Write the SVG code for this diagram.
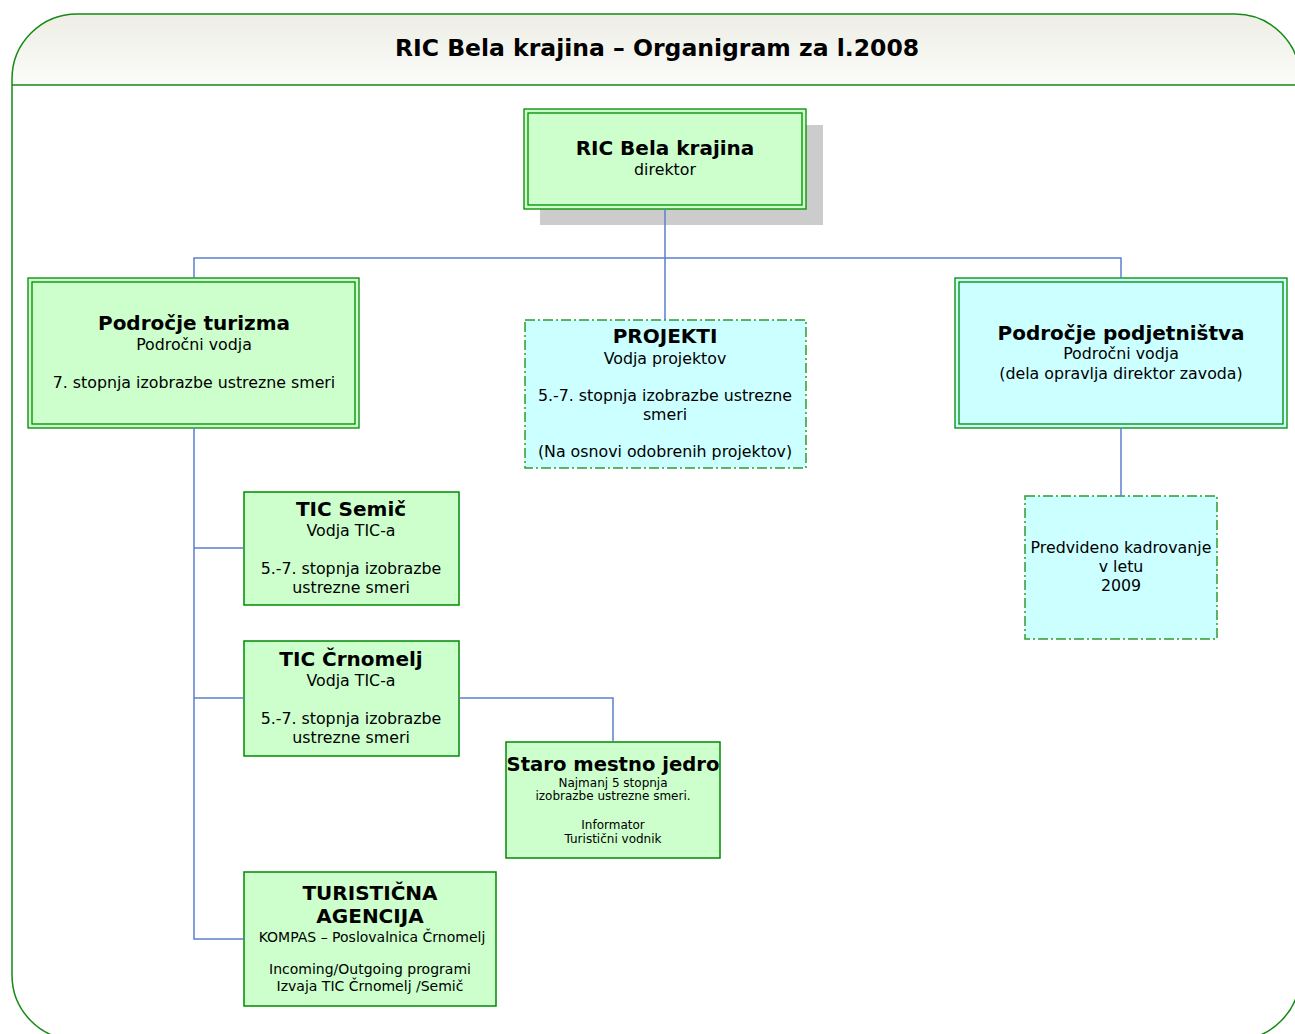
<svg xmlns="http://www.w3.org/2000/svg" width="1295" height="1034" viewBox="0 0 1295 1034">
<defs>
<linearGradient id="hdr" gradientUnits="userSpaceOnUse" x1="0" y1="14" x2="0" y2="85">
<stop offset="0" stop-color="#eeeee6"/>
<stop offset="1" stop-color="#fbfbf9"/>
</linearGradient>
<clipPath id="hclip"><rect x="0" y="0" width="1400" height="85"/></clipPath>
</defs>
<style>
text{font-family:"DejaVu Sans",Verdana,sans-serif;fill:#000;text-anchor:middle}
.t{font-weight:bold;font-size:20px}
.s{font-size:15.8px}
.xs{font-size:12px}
.m{font-size:14px}
.box{stroke:#008a00;stroke-width:1.5}
.dbl{fill:none;stroke:#008a00;stroke-width:1.3}
.dash{stroke:#2f9a2f;stroke-width:1.5;stroke-dasharray:10 3 2 3}
.g{fill:#ccffcc}
.c{fill:#ccffff}
.conn{fill:none;stroke:#5b7fcf;stroke-width:1.5}
</style>
<rect width="1295" height="1034" fill="#fff"/>
<g id="frame">
<rect x="12" y="14" width="1288" height="1026" rx="65" ry="65" fill="url(#hdr)" clip-path="url(#hclip)"/>
<rect x="12" y="14" width="1288" height="1026" rx="65" ry="65" fill="none" stroke="#138a13" stroke-width="1.5"/>
<line x1="12" y1="85" x2="1300" y2="85" stroke="#138a13" stroke-width="1.5"/>
<text x="657" y="56" style="font-weight:bold;font-size:23.5px">RIC Bela krajina – Organigram za l.2008</text>
</g>
<g id="n-ric">
<rect x="540" y="125" width="283" height="100" fill="#cccccc"/>
<rect x="524" y="109" width="282" height="100" class="g" stroke="#008a00" stroke-width="1.3"/>
<rect x="528" y="113" width="274" height="92" class="dbl"/>
<text class="t" x="665" y="155">RIC Bela krajina</text>
<text class="s" x="665" y="175">direktor</text>
</g>
<g id="n-turizem">
<rect x="28" y="278" width="331" height="150" class="g" stroke="#008a00" stroke-width="1.3"/>
<rect x="32" y="282" width="323" height="142" class="dbl"/>
<text class="t" x="194" y="330">Področje turizma</text>
<text class="s" x="194" y="350">Področni vodja</text>
<text class="s" x="194" y="388">7. stopnja izobrazbe ustrezne smeri</text>
</g>
<g id="n-projekti">
<rect x="525" y="320" width="281" height="148" class="c dash"/>
<text class="t" x="665" y="343">PROJEKTI</text>
<text class="s" x="665" y="364">Vodja projektov</text>
<text class="s" x="665" y="401">5.-7. stopnja izobrazbe ustrezne</text>
<text class="s" x="665" y="420">smeri</text>
<text class="s" x="665" y="457">(Na osnovi odobrenih projektov)</text>
</g>
<g id="n-podjetnistvo">
<rect x="955" y="278" width="332" height="150" class="c" stroke="#008a00" stroke-width="1.3"/>
<rect x="959" y="282" width="324" height="142" class="dbl"/>
<text class="t" x="1121" y="340">Področje podjetništva</text>
<text class="s" x="1121" y="359">Področni vodja</text>
<text class="s" x="1121" y="379">(dela opravlja direktor zavoda)</text>
</g>
<g id="n-predvideno">
<rect x="1025" y="496" width="192" height="143" class="c dash"/>
<text class="s" x="1121" y="553">Predvideno kadrovanje</text>
<text class="s" x="1121" y="572">v letu</text>
<text class="s" x="1121" y="591">2009</text>
</g>
<g id="n-semic">
<rect x="244" y="492" width="215" height="113" class="g box"/>
<text class="t" x="351" y="516">TIC Semič</text>
<text class="s" x="351" y="536">Vodja TIC-a</text>
<text class="s" x="351" y="574">5.-7. stopnja izobrazbe</text>
<text class="s" x="351" y="593">ustrezne smeri</text>
</g>
<g id="n-crnomelj">
<rect x="244" y="641" width="215" height="115" class="g box"/>
<text class="t" x="351" y="666">TIC Črnomelj</text>
<text class="s" x="351" y="686">Vodja TIC-a</text>
<text class="s" x="351" y="724">5.-7. stopnja izobrazbe</text>
<text class="s" x="351" y="743">ustrezne smeri</text>
</g>
<g id="n-staro">
<rect x="506" y="742" width="214" height="116" class="g box"/>
<text x="613" y="771" style="font-weight:bold;font-size:19.6px">Staro mestno jedro</text>
<text class="xs" x="613" y="787">Najmanj 5 stopnja</text>
<text class="xs" x="613" y="800">izobrazbe ustrezne smeri.</text>
<text class="xs" x="613" y="829">Informator</text>
<text class="xs" x="613" y="843">Turistični vodnik</text>
</g>
<g id="n-agencija">
<rect x="244" y="872" width="252" height="134" class="g box"/>
<text class="t" x="370" y="900">TURISTIČNA</text>
<text class="t" x="370" y="923">AGENCIJA</text>
<text class="m" x="372" y="942">KOMPAS – Poslovalnica Črnomelj</text>
<text class="m" x="370" y="974">Incoming/Outgoing programi</text>
<text class="m" x="370" y="991">Izvaja TIC Črnomelj /Semič</text>
</g>
<g id="connectors">
<path class="conn" d="M665 209 V320 M194 278 V258 H1121 V278"/>
<path class="conn" d="M194 428 V939 H244 M194 548 H244 M194 698 H244"/>
<path class="conn" d="M459 698 H613 V742"/>
<path class="conn" d="M1121 428 V496"/>
</g>
</svg>
